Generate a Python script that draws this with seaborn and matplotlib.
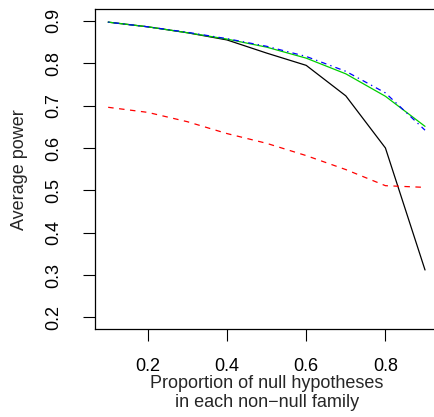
import matplotlib
matplotlib.use("Agg")
import matplotlib.pyplot as plt
import seaborn as sns
import pandas as pd

# Proportion of null hypotheses within each non-null family
prop_null = [0.1, 0.2, 0.3, 0.4, 0.5, 0.6, 0.7, 0.8, 0.9]

# Average power of the four procedures
power_black = [0.897, 0.886, 0.872, 0.855, 0.824, 0.795, 0.723, 0.600, 0.312]
power_red = [0.696, 0.684, 0.662, 0.634, 0.611, 0.582, 0.549, 0.511, 0.507]
power_green = [0.897, 0.886, 0.872, 0.857, 0.838, 0.812, 0.775, 0.722, 0.651]
power_blue = [0.897, 0.886, 0.873, 0.858, 0.840, 0.816, 0.781, 0.730, 0.642]

x_ticks = [0.2, 0.4, 0.6, 0.8]
y_ticks = [0.2, 0.3, 0.4, 0.5, 0.6, 0.7, 0.8, 0.9]

sns.set_style("ticks")
plt.rcParams["font.family"] = ["Liberation Sans", "DejaVu Sans"]

fig = plt.figure(figsize=(4.35, 4.17), dpi=100)
ax = fig.add_axes([0.2195, 0.2103, 0.7867, 0.7681])

df = pd.DataFrame({
    "prop": prop_null,
    "black": power_black,
    "red": power_red,
    "green": power_green,
    "blue": power_blue,
})

lw = 0.9
sns.lineplot(data=df, x="prop", y="black", color="black", linewidth=lw, ax=ax)
sns.lineplot(data=df, x="prop", y="red", color="#FF0000", linewidth=lw,
             linestyle=(0, (4.4, 4.4)), ax=ax)
sns.lineplot(data=df, x="prop", y="green", color="#00CD00", linewidth=lw, ax=ax)
sns.lineplot(data=df, x="prop", y="blue", color="#0000FF", linewidth=lw,
             linestyle=(0, (1.1, 3.3, 4.4, 3.3)), ax=ax)

ax.set_xlim(0.068, 0.932)
ax.set_ylim(0.172, 0.928)
ax.set_xticks(x_ticks)
ax.set_xticklabels([f"{t:.1f}" for t in x_ticks])
ax.set_yticks(y_ticks)
ax.set_yticklabels([f"{t:.1f}" for t in y_ticks], rotation=90, va="center")

fs = 13
ax.tick_params(axis="both", direction="out", length=8.5, width=0.8,
               color="black", labelsize=fs, labelcolor="black")
ax.tick_params(axis="x", pad=12.5)
ax.tick_params(axis="y", pad=15.5)

for s in ax.spines.values():
    s.set_visible(True)
    s.set_color("black")
    s.set_linewidth(0.9)

ax.set_xlabel("Proportion of null hypotheses\nin each non\u2212null family",
              fontsize=fs, linespacing=1.1, labelpad=0)
ax.set_ylabel("Average power", fontsize=fs, labelpad=12.5)
ax.grid(False)

fig.savefig("out.png", dpi=100)
